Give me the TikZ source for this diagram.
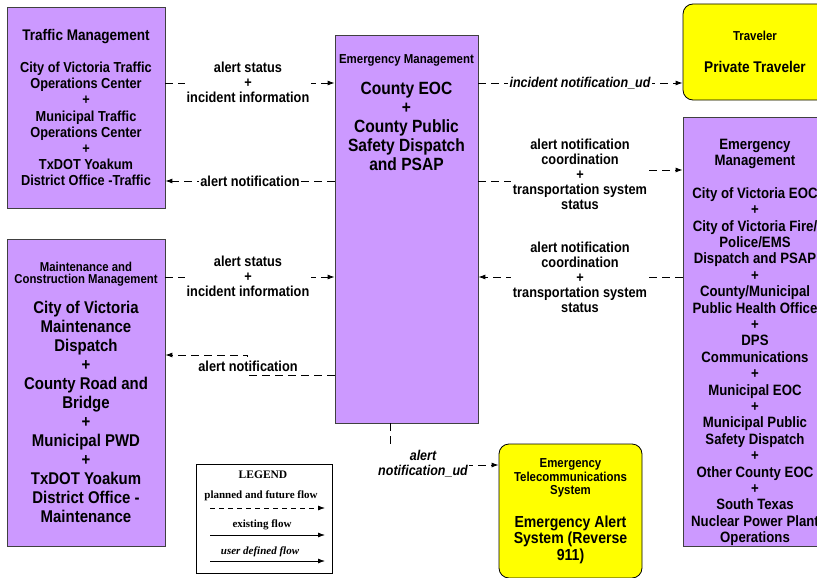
\documentclass[tikz,border=0pt]{standalone}
\usepackage{fontspec}
\setmainfont{Liberation Sans}[FakeStretch=0.88]
\newfontfamily\legendfont{Liberation Serif}
\usepackage{xcolor}
\usetikzlibrary{arrows.meta}
\definecolor{emviolet}{HTML}{CC99FF}
\definecolor{termyellow}{HTML}{FFFF00}
\newcommand\boxtitle{\fontsize{13}{14}\selectfont}
\newcommand\smalltitle{\fontsize{12.9}{13}\selectfont}

\begin{document}
\begin{tikzpicture}[x=1pt, y=-1pt,
  sysbox/.style={draw=black!75, fill=emviolet, line width=0.8pt, inner sep=0pt,
                 align=center, font=\bfseries\fontsize{14.5}{16.2}\selectfont},
  termbox/.style={draw=black, fill=termyellow, line width=0.8pt, rounded corners=10pt,
                  inner sep=0pt, align=center, font=\bfseries\fontsize{15.5}{17}\selectfont},
  boxtext/.style={inner sep=0pt, align=center},
  flow/.style={-{Latex[length=7pt,width=5pt]}, line width=0.9pt, dash pattern=on 8pt off 5pt},
  lbl/.style={fill=white, inner sep=1.5pt, align=center, font=\bfseries\fontsize{14.5}{15}\selectfont},
  udlbl/.style={lbl, font=\bfseries\itshape\fontsize{14.2}{15}\selectfont},
  legtext/.style={inner sep=0pt, font=\legendfont\bfseries\fontsize{11}{12}\selectfont}
]
\useasboundingbox (0,0) rectangle (817,578);

% systems
\node[sysbox, minimum width=158, minimum height=201] (tm) at (86,107.5)
  {\fontsize{15.4}{16}\selectfont Traffic Management\\[16pt]City of Victoria Traffic\\Operations Center\\+\\Municipal Traffic\\Operations Center\\+\\TxDOT Yoakum\\District Office -Traffic};
\node[sysbox, minimum width=158, minimum height=307, font=\bfseries\fontsize{17}{19}\selectfont] (mcm) at (86,392.5)
  {\smalltitle Maintenance and\\[-7pt]\smalltitle Construction Management\\[11pt]City of Victoria\\Maintenance\\Dispatch\\+\\County Road and\\Bridge\\+\\Municipal PWD\\+\\TxDOT Yoakum\\District Office -\\Maintenance};
\node[sysbox, minimum width=143, minimum height=388] (cem) at (406.5,229) {};
\node[boxtext, anchor=north, font=\bfseries\fontsize{17.7}{19}\selectfont] (cemtxt) at (406.5,54)
  {\boxtitle Emergency Management\\[12pt]County EOC\\+\\County Public\\Safety Dispatch\\and PSAP};
\node[sysbox, minimum width=144, minimum height=429] (rem) at (755,331.5) {};
\node[boxtext, font=\bfseries\fontsize{15}{16.4}\selectfont] (remtxt) at (755,342.5)
  {Emergency\\Management\\[16pt]City of Victoria EOC\\+\\City of Victoria Fire/\\Police/EMS\\Dispatch and PSAP\\+\\County/Municipal\\Public Health Office\\+\\DPS\\Communications\\+\\Municipal EOC\\+\\Municipal Public\\Safety Dispatch\\+\\Other County EOC\\+\\South Texas\\Nuclear Power Plant\\Operations};

% terminators
\node[termbox, minimum width=144, minimum height=96] (trav) at (755,52)
  {\boxtitle Traveler\\[15pt]Private Traveler};
\node[termbox, minimum width=143, minimum height=134, font=\bfseries\fontsize{16}{16.5}\selectfont] (ets) at (570.5,511)
  {\boxtitle Emergency\\[-3pt]\boxtitle Telecommunications\\[-3pt]\boxtitle System\\[16pt]Emergency Alert\\System (Reverse\\911)};

% flows
\draw[flow] (tm.east |- 0,83) -- (cem.west |- 0,83);
\draw[flow] (cem.west |- 0,181) -- (tm.east |- 0,181);
\draw[flow] (mcm.east |- 0,277) -- (cem.west |- 0,277);
\draw[flow] (cem.west |- 0,375) -- (247,375) -- (247,355) -- (mcm.east |- 0,355);
\draw[flow] (cem.east |- 0,83) -- (trav.west |- 0,83);
\draw[flow] (cem.east |- 0,181) -- (580,181) -- (580,170) -- (rem.west |- 0,170);
\draw[flow] (rem.west |- 0,277) -- (cem.east |- 0,277);
\draw[flow] (cem.south -| 390,0) -- (390,465) -- (ets.west |- 0,465);

% flow labels
\node[lbl] (f1) at (248,82) {alert status\\+\\incident information};
\node[lbl] (f2) at (250,181) {alert notification};
\node[lbl] (f3) at (248,276) {alert status\\+\\incident information};
\node[lbl, inner ysep=3.6pt] (f4) at (248,366) {alert notification};
\node[udlbl] (f5) at (580,83) {incident notification\_ud};
\node[lbl] (f6) at (580,174) {alert notification\\coordination\\+\\transportation system\\status};
\node[lbl] (f7) at (580,277) {alert notification\\coordination\\+\\transportation system\\status};
\node[udlbl] (f8) at (423,464) {alert\\notification\_ud};

% legend
\node[draw=black, line width=1pt, minimum width=136, minimum height=109] (legend) at (264,518.5) {};
\node[legtext, font=\legendfont\bfseries\fontsize{11.5}{12}\selectfont] (lgtitle) at (263,475) {LEGEND};
\node[legtext] (lgplan) at (261,496) {planned and future flow};
\node[legtext] (lgexist) at (262,525) {existing flow};
\node[legtext, font=\legendfont\bfseries\itshape\fontsize{11}{12}\selectfont] (lguser) at (260,552) {user defined flow};
\coordinate (lp1) at (210,508);
\coordinate (lp2) at (325,508);
\coordinate (le1) at (210,535);
\coordinate (le2) at (325,535);
\coordinate (lu1) at (210,561);
\coordinate (lu2) at (325,561);
\draw[flow, line width=0.8pt, dash pattern=on 5pt off 4pt] (lp1) -- (lp2);
\draw[flow, line width=0.8pt, solid] (le1) -- (le2);
\draw[flow, line width=0.8pt, solid] (lu1) -- (lu2);
\end{tikzpicture}
\end{document}
